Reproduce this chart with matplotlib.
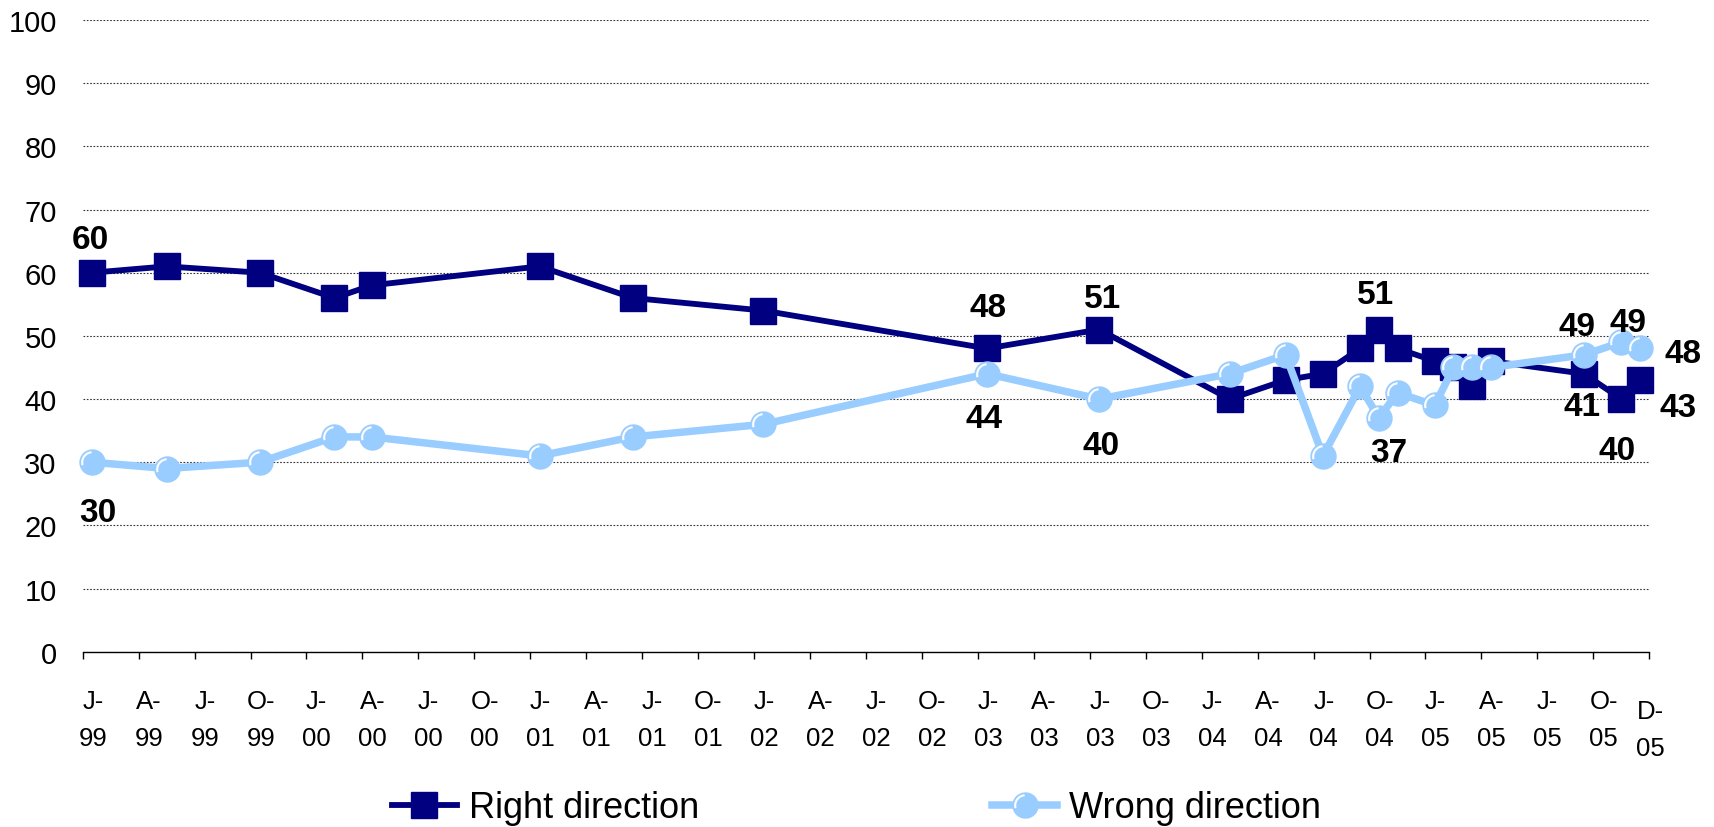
import numpy as np
import matplotlib.pyplot as plt
from matplotlib.path import Path
from matplotlib.legend_handler import HandlerTuple

plt.rcParams['font.family'] = ['Liberation Sans', 'DejaVu Sans']

# poll dates (year-month) and shares in percent
dates = ['1999-01', '1999-05', '1999-10', '2000-02', '2000-04', '2001-01',
         '2001-06', '2002-01', '2003-01', '2003-07', '2004-02', '2004-05',
         '2004-07', '2004-09', '2004-10', '2004-11', '2005-01', '2005-02',
         '2005-03', '2005-04', '2005-09', '2005-11', '2005-12']
right_direction = [60, 61, 60, 56, 58, 61, 56, 54, 48, 51, 40, 43,
                   44, 48, 51, 48, 46, 45, 42, 46, 44, 40, 43]
wrong_direction = [30, 29, 30, 34, 34, 31, 34, 36, 44, 40, 44, 47,
                   31, 42, 37, 41, 39, 45, 45, 45, 47, 49, 48]

# which points carry a value label, and the text printed there
right_label_idx = [0, 8, 9, 14, 20, 21, 22]
right_label_txt = ['60', '48', '51', '51', '41', '40', '43']
wrong_label_idx = [0, 8, 9, 14, 20, 21, 22]
wrong_label_txt = ['30', '44', '40', '37', '49', '49', '48']

tick_labels = ['J-99', 'A-99', 'J-99', 'O-99', 'J-00', 'A-00', 'J-00', 'O-00',
               'J-01', 'A-01', 'J-01', 'O-01', 'J-02', 'A-02', 'J-02', 'O-02',
               'J-03', 'A-03', 'J-03', 'O-03', 'J-04', 'A-04', 'J-04', 'O-04',
               'J-05', 'A-05', 'J-05', 'O-05']
end_label = 'D-05'

# label placement in pixels relative to the point (dx, dy up)
right_label_off = [(-2, 36), (1, 44), (3, 34), (-3, 38), (-2, -30), (-4, -48), (38, -24)]
wrong_label_off = [(6, -47), (-3, -42), (2, -43), (10, -32), (-7, 31), (7, 23), (43, -2)]


def month_pos(s):
    # months since start of Jan 1999, polls sit mid-month
    y, m = s.split('-')
    return (int(y) - 1999) * 12 + int(m) - 1 + 0.5


x = np.array([month_pos(d) for d in dates])

navy = '#000080'
light = '#99CCFF'

fig = plt.figure(figsize=(17.15, 8.28), dpi=100)
ax = fig.add_axes([0.04822, 0.21171, 0.91347, 0.76292])

ax.set_xlim(0, 84)
ax.set_ylim(0, 100)
ax.set_yticks(range(0, 101, 10))
ax.yaxis.grid(True, color='#333333', linestyle=(0, (1.5, 1.5)), linewidth=0.8)
ax.set_axisbelow(True)
for s in ['left', 'top', 'right']:
    ax.spines[s].set_visible(False)
ax.spines['bottom'].set_linewidth(1.0)
ax.tick_params(axis='y', length=0, pad=18.7, labelsize=21)

# tick marks every quarter, labels sit a bit to the right of each mark
ax.set_xticks(np.arange(0, 85, 3))
ax.tick_params(axis='x', which='major', direction='out', length=5, width=1,
               labelbottom=False)
ax.set_xticks(np.arange(0, 82, 3) + 0.55,
              [t.replace('-', '-\n') for t in tick_labels], minor=True)
ax.tick_params(axis='x', which='minor', length=0, pad=26.5, labelsize=18.5)
for lbl in ax.get_xticklabels(minor=True):
    lbl.set_linespacing(1.72)
ax.annotate(end_label.replace('-', '-\n'), (84.05, 0), xycoords=('data', 'axes fraction'),
            xytext=(0, -47), textcoords='offset pixels', ha='center', va='top',
            fontsize=18.5, linespacing=1.72, annotation_clip=False)

l1, = ax.plot(x, right_direction, color=navy, lw=4.2, marker='s', ms=18.5,
              mfc=navy, mec=navy, zorder=3, clip_on=False)
l2, = ax.plot(x, wrong_direction, color=light, lw=5.4, marker='o', ms=18,
              mfc=light, mec=light, zorder=4, clip_on=False)
# little white shine on the round markers
shine = Path.arc(95, 195)
l3, = ax.plot(x, wrong_direction, ls='none', marker=shine, ms=15, mfc='none',
              mec='white', mew=1.5, zorder=5, clip_on=False)

for i, t, (dx, dy) in zip(right_label_idx, right_label_txt, right_label_off):
    ax.annotate(t, (x[i], right_direction[i]), xytext=(dx, dy - 3),
                textcoords='offset pixels', ha='center', va='center',
                fontsize=24, fontweight='bold', zorder=6, annotation_clip=False)
for i, t, (dx, dy) in zip(wrong_label_idx, wrong_label_txt, wrong_label_off):
    ax.annotate(t, (x[i], wrong_direction[i]), xytext=(dx, dy - 3),
                textcoords='offset pixels', ha='center', va='center',
                fontsize=24, fontweight='bold', zorder=6, annotation_clip=False)

leg_kw = dict(loc='center left', frameon=False, fontsize=26, handlelength=1.8,
              handletextpad=0.34, borderpad=0, borderaxespad=0, numpoints=1)
fig.legend([l1], ['Right direction'], bbox_to_anchor=(392 / 1715, 1 - 809 / 828), **leg_kw)
fig.legend([(l2, l3)], ['Wrong direction'], bbox_to_anchor=(992 / 1715, 1 - 809 / 828),
           handler_map={tuple: HandlerTuple(ndivide=1)}, **leg_kw)

fig.savefig('out.png', dpi=100)
